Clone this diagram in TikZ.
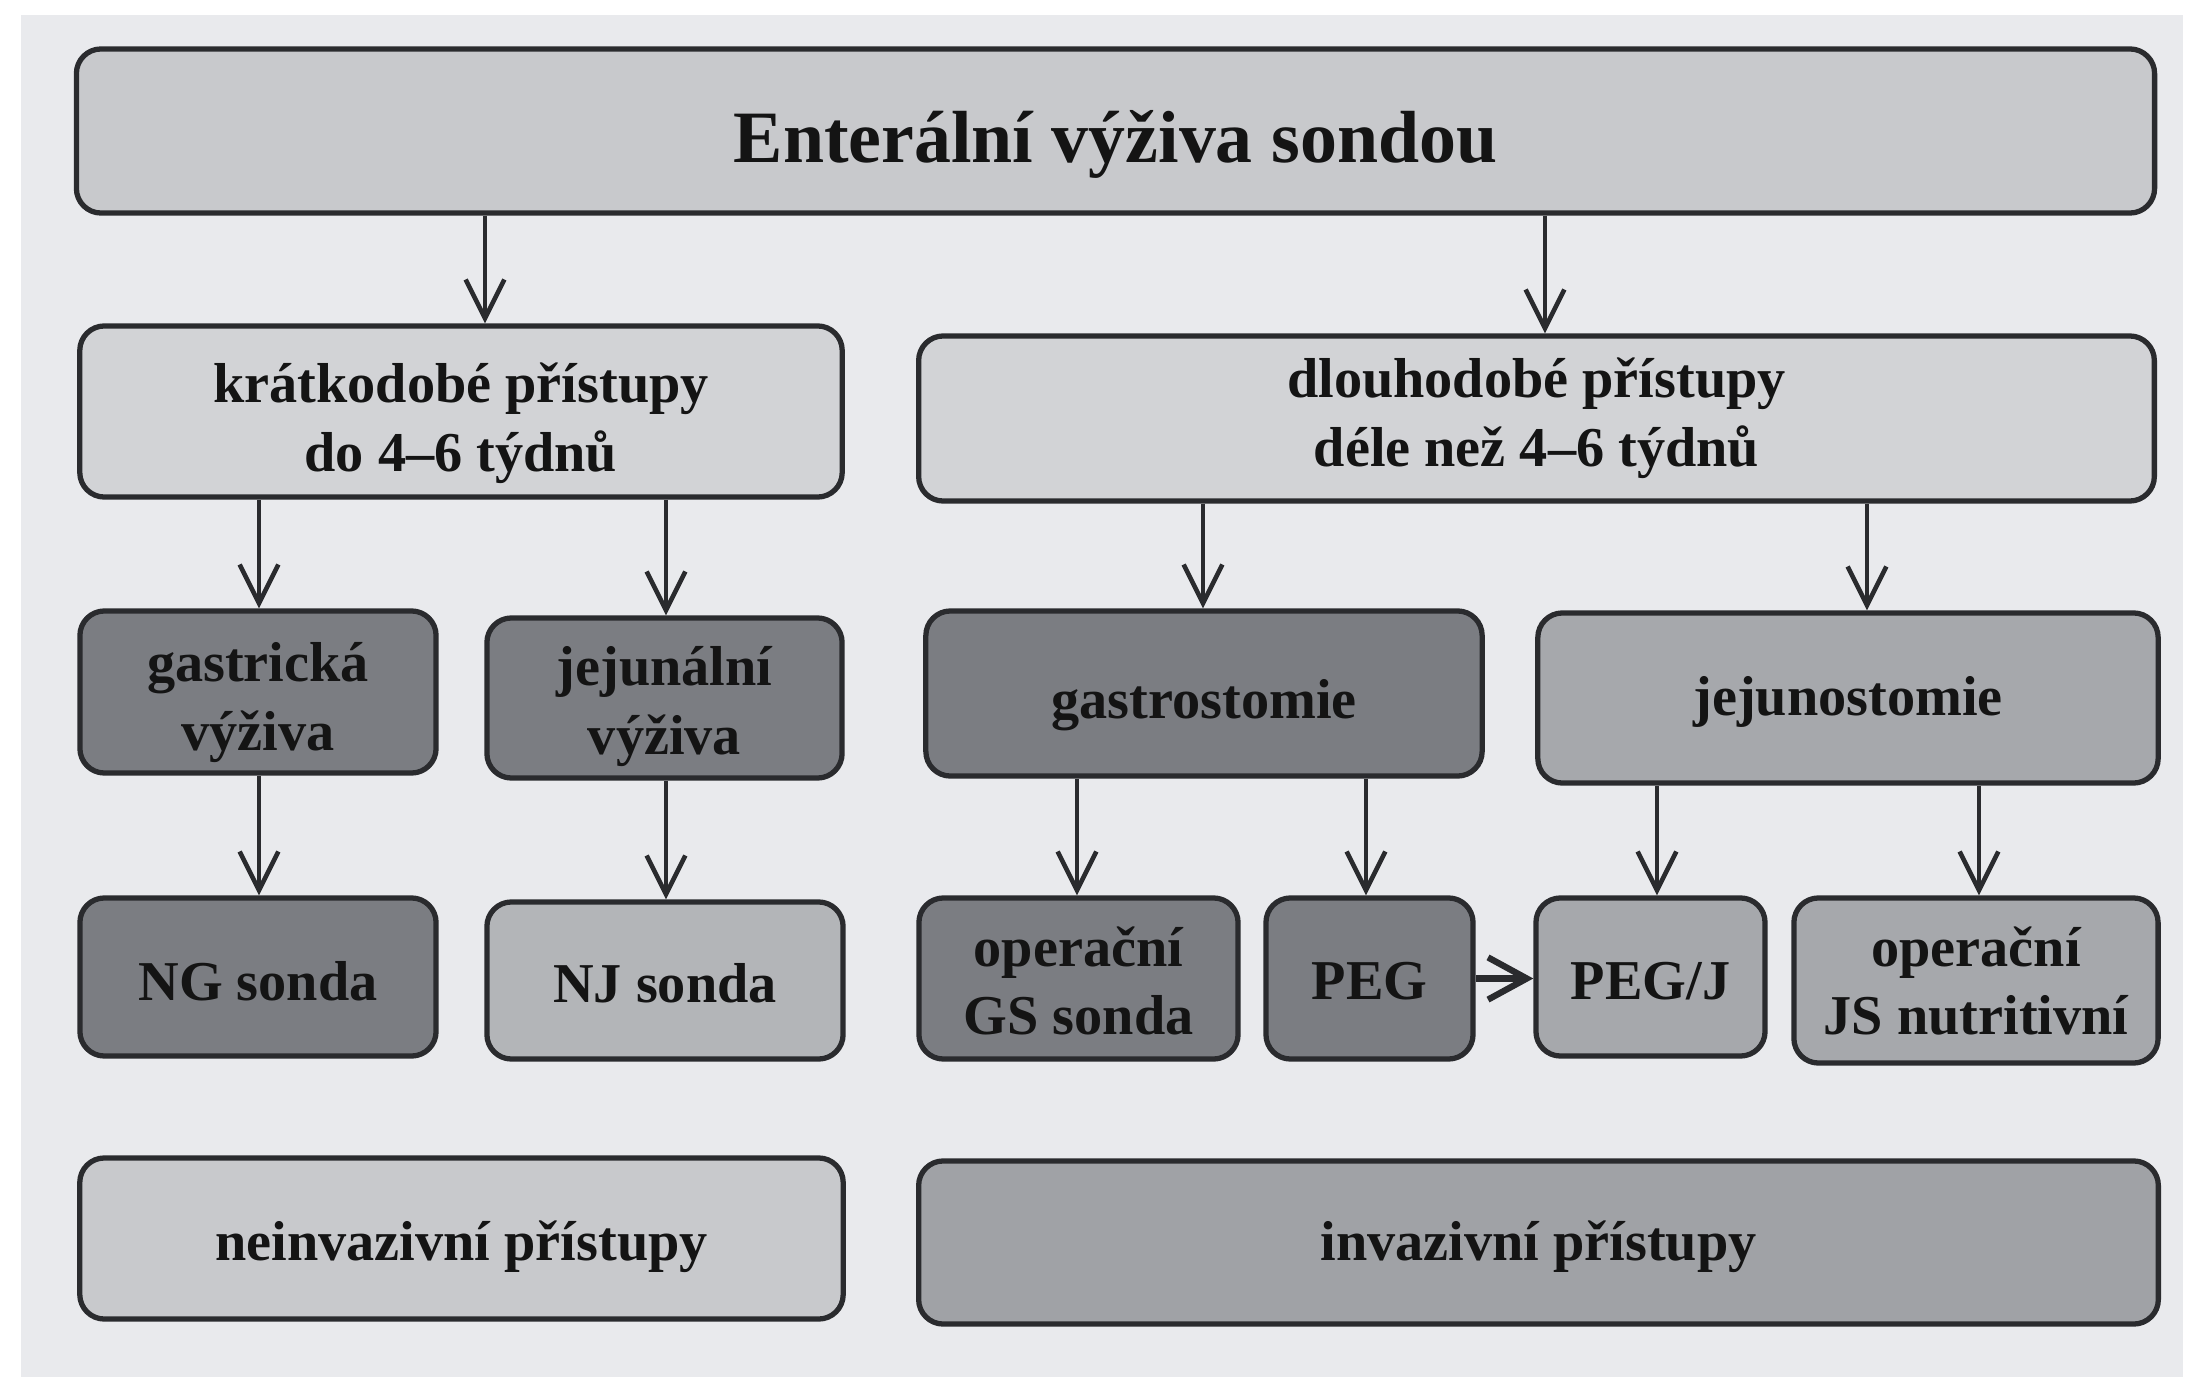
\documentclass[tikz,border=0pt]{standalone}
\usepackage{fontspec}
\setmainfont{Liberation Serif}
\usetikzlibrary{arrows.meta}
\definecolor{paper}{HTML}{E9EAED}
\definecolor{edge}{HTML}{2A2B2E}
\definecolor{ink}{HTML}{141414}
\definecolor{pale}{HTML}{D2D3D6}
\definecolor{paleB}{HTML}{C8C9CC}
\definecolor{dark}{HTML}{7B7D82}
\definecolor{mid}{HTML}{A6A8AC}
\definecolor{midB}{HTML}{B3B5B8}
\definecolor{midC}{HTML}{A0A2A6}
% centred text block, lowered inside its box without changing the box size
\newcommand\tx[2][2.4pt]{\raisebox{-#1}[\height][\depth]{\begin{tabular}{@{}c@{}}#2\end{tabular}}}
\begin{document}
\begin{tikzpicture}[x=0.01cm,y=-0.01cm,
  box/.style={draw=edge, line width=1.5pt, rounded corners=7pt,
    font=\fontsize{16}{19.5}\selectfont\bfseries, text=ink, inner sep=0pt},
  link/.style={draw=edge, line width=1.3pt,
    -{Straight Barb[length=11pt,width=11pt,line width=1.3pt]}},
]
% page and grey sheet
\useasboundingbox (0,0) rectangle (2193,1382);
\fill[white] (0,0) rectangle (2193,1382);
\fill[paper] (21,15) rectangle (2183,1377);

% title
\node[box, fill=paleB, minimum width=20.77cm, minimum height=1.64cm,
  font=\fontsize{21}{25}\selectfont\bfseries] (top) at (1115.5,131) {\tx[4pt]{Enterální výživa sondou}};

% second row
\node[box, fill=pale, minimum width=7.62cm, minimum height=1.71cm] (short) at (461,411.5)
  {\tx[3.4pt]{krátkodobé přístupy\\do 4–6 týdnů}};
\node[box, fill=pale, minimum width=12.35cm, minimum height=1.65cm] (long) at (1536.5,418.5)
  {\tx[0pt]{dlouhodobé přístupy\\déle než 4–6 týdnů}};

% third row
\node[box, fill=dark, minimum width=3.56cm, minimum height=1.62cm] (gastr) at (258,692)
  {\tx[3pt]{gastrická\\výživa}};
\node[box, fill=dark, minimum width=3.55cm, minimum height=1.60cm] (jejun) at (664.5,698)
  {\tx{jejunální\\výživa}};
\node[box, fill=dark, minimum width=5.56cm, minimum height=1.65cm] (gstom) at (1204,693.5)
  {\tx[3.2pt]{gastrostomie}};
\node[box, fill=mid, minimum width=6.20cm, minimum height=1.70cm] (jstom) at (1848,698)
  {\tx[1.2pt]{jejunostomie}};

% fourth row
\node[box, fill=dark, minimum width=3.56cm, minimum height=1.58cm] (ng) at (258,977) {\tx[2.8pt]{NG sonda}};
\node[box, fill=midB, minimum width=3.56cm, minimum height=1.57cm] (nj) at (665,980.5) {\tx{NJ sonda}};
\node[box, fill=dark, minimum width=3.19cm, minimum height=1.61cm] (gs) at (1078.5,978.5)
  {\tx{operační\\GS sonda}};
\node[box, fill=dark, minimum width=2.07cm, minimum height=1.61cm] (peg) at (1369.5,978.5) {\tx[2pt]{PEG}};
\node[box, fill=mid, minimum width=2.29cm, minimum height=1.58cm] (pegj) at (1650.5,977) {\tx{PEG/J}};
\node[box, fill=mid, minimum width=3.64cm, minimum height=1.65cm] (js) at (1976,980.5)
  {\tx[1.8pt]{operační\\JS nutritivní}};

% bottom legend
\node[box, fill=paleB, minimum width=7.63cm, minimum height=1.61cm] (noninv) at (461.5,1238.5)
  {\tx{neinvazivní přístupy}};
\node[box, fill=midC, minimum width=12.39cm, minimum height=1.63cm] (inv) at (1538.5,1242.5)
  {\tx[1.2pt]{invazivní přístupy}};

% arrow columns
\coordinate (xa) at (485,0);
\coordinate (xb) at (1545,0);
\coordinate (xc) at (259,0);
\coordinate (xd) at (666,0);
\coordinate (xe) at (1203,0);
\coordinate (xf) at (1867,0);
\coordinate (xg) at (1077,0);
\coordinate (xh) at (1366,0);
\coordinate (xi) at (1657,0);
\coordinate (xj) at (1979,0);

\draw[link] (top.south -| xa) -- (short.north -| xa);
\draw[link] (top.south -| xb) -- (long.north -| xb);
\draw[link] (short.south -| xc) -- (gastr.north -| xc);
\draw[link] (short.south -| xd) -- (jejun.north -| xd);
\draw[link] (long.south -| xe) -- (gstom.north -| xe);
\draw[link] (long.south -| xf) -- (jstom.north -| xf);
\draw[link] (gastr.south -| xc) -- (ng.north -| xc);
\draw[link] (jejun.south -| xd) -- (nj.north -| xd);
\draw[link] (gstom.south -| xg) -- (gs.north -| xg);
\draw[link] (gstom.south -| xh) -- (peg.north -| xh);
\draw[link] (jstom.south -| xi) -- (pegj.north -| xi);
\draw[link] (jstom.south -| xj) -- (js.north -| xj);
\draw[draw=edge, line width=2pt, -{Straight Barb[length=11pt,width=12pt,line width=1.8pt]}]
  (peg.east) -- (peg.east -| pegj.west);
\end{tikzpicture}
\end{document}
